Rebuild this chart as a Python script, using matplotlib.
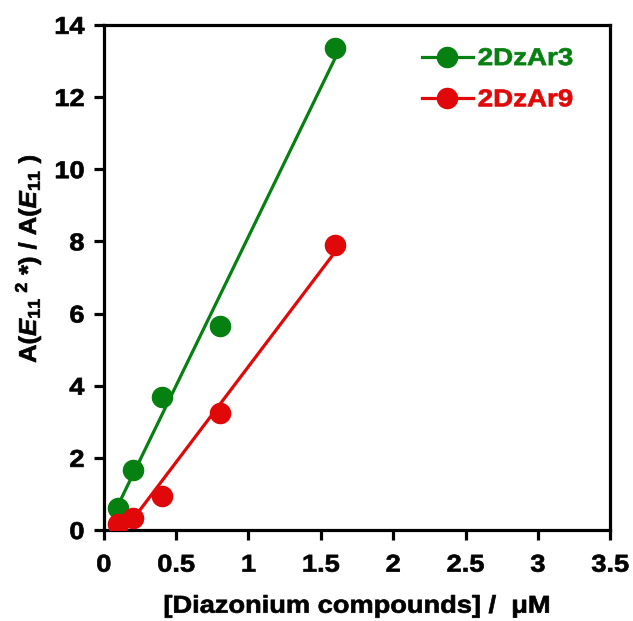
import numpy as np
import matplotlib
matplotlib.use("Agg")
import matplotlib.pyplot as plt
from matplotlib.patheffects import AbstractPathEffect
from matplotlib.transforms import Affine2D

plt.rcParams['font.family'] = ['Liberation Sans', 'DejaVu Sans']
plt.rcParams['font.weight'] = 'bold'
plt.rcParams['mathtext.fontset'] = 'custom'
plt.rcParams['mathtext.rm'] = 'Liberation Sans:bold'
plt.rcParams['mathtext.it'] = 'Liberation Sans:bold:italic'
plt.rcParams['mathtext.bf'] = 'Liberation Sans:bold'
plt.rcParams['mathtext.bfit'] = 'Liberation Sans:bold:italic'

conc = [0.1, 0.2, 0.4, 0.8, 1.6]
dzar3 = [0.61, 1.66, 3.69, 5.66, 13.36]
dzar9 = [0.17, 0.33, 0.95, 3.24, 7.90]
series_names = ['2DzAr3', '2DzAr9']
series_colors = ['#078012', '#E00808']

xticks = [0, 0.5, 1, 1.5, 2, 2.5, 3, 3.5]
xticklabels = ['0', '0.5', '1', '1.5', '2', '2.5', '3', '3.5']
yticks = [0, 2, 4, 6, 8, 10, 12, 14]


class HStretch(AbstractPathEffect):
    """Stretch glyph paths along the text direction and thicken slightly."""
    def __init__(self, sx=1.12, anchor='left', stroke=0.5):
        super().__init__()
        self.sx = sx
        self.anchor = anchor
        self.stroke = stroke

    def draw_path(self, renderer, gc, tpath, affine, rgbFace=None):
        ext = tpath.get_extents()
        if self.anchor == 'center':
            cx = 0.5 * (ext.x0 + ext.x1)
        elif self.anchor == 'right':
            cx = ext.x1
        else:
            cx = 0.0
        t = Affine2D().translate(-cx, 0).scale(self.sx, 1).translate(cx, 0)
        gc0 = renderer.new_gc()
        gc0.copy_properties(gc)
        if rgbFace is not None:
            gc0.set_foreground(rgbFace)
        gc0.set_linewidth(self.stroke)
        gc0.set_joinstyle('round')
        renderer.draw_path(gc0, tpath, t + affine, rgbFace)
        gc0.restore()


FS = 17.5
SX = 1.12

fig = plt.figure(figsize=(6.33, 6.21), dpi=100)
ax = fig.add_axes([0.164, 0.1465, 0.800, 0.8135])

handles = []
for ys, name, col in zip([dzar3, dzar9], series_names, series_colors):
    x = np.array(conc)
    y = np.array(ys)
    slope, icpt = np.polyfit(x, y, 1)
    xl = np.array([x.min(), x.max()])
    ax.plot(xl, slope * xl + icpt, color=col, lw=2.3, zorder=2)
    ax.plot(x, y, 'o', color=col, ms=14.5, zorder=3)
    h, = ax.plot([], [], '-o', color=col, lw=2.3, ms=14.5)
    handles.append(h)

ax.set_xlim(0, 3.5)
ax.set_ylim(0, 14)
ax.set_xticks(xticks)
ax.set_xticklabels(xticklabels)
ax.set_yticks(yticks)
for s in ax.spines.values():
    s.set_linewidth(2.3)
ax.tick_params(direction='out', length=7, width=2.3, labelsize=FS)
ax.tick_params(axis='x', pad=10)
ax.tick_params(axis='y', pad=7)
for lab in ax.get_xticklabels():
    lab.set_path_effects([HStretch(SX, 'center')])
for lab in ax.get_yticklabels():
    lab.set_path_effects([HStretch(SX, 'right')])

leg = ax.legend(handles, series_names, loc='upper left', frameon=False,
                fontsize=FS, handlelength=2.1, handletextpad=0.2,
                labelspacing=0.75, borderpad=0, borderaxespad=0,
                bbox_to_anchor=(0.628, 0.956))
for t, col in zip(leg.get_texts(), series_colors):
    t.set_color(col)
    t.set_fontweight('bold')
    t.set_path_effects([HStretch(1.14, 'left')])

xl_ = ax.set_xlabel('[Diazonium compounds] /  μM', fontsize=FS, fontweight='bold')
xl_.set_path_effects([HStretch(SX, 'center')])
ax.xaxis.set_label_coords(0.5, -0.128)
yl_ = ax.set_ylabel(r'A($\mathbfit{E}_{11}{}^{\ 2}$ *) / A($\mathbfit{E}_{11}$ )', fontsize=FS,
                    fontweight='bold')
yl_.set_path_effects([HStretch(1.05, 'center')])
ax.yaxis.set_label_coords(-0.12, 0.537)

fig.savefig('out.png', dpi=100)
